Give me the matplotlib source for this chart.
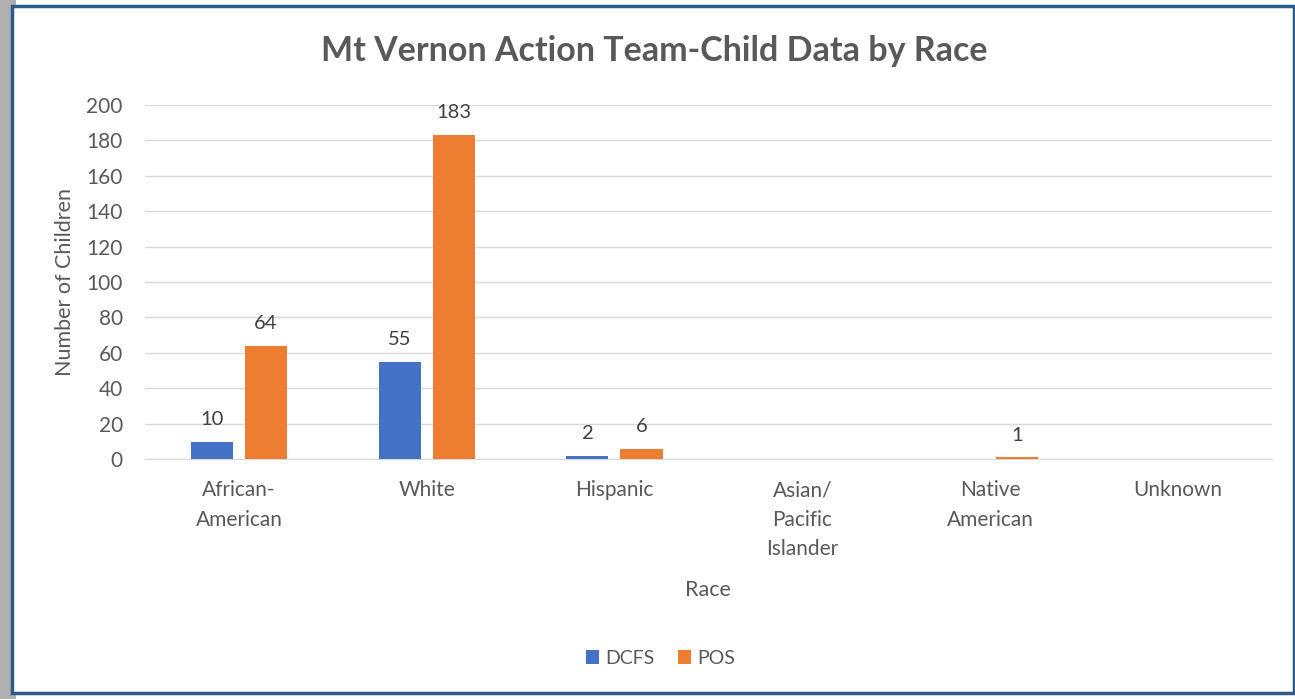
import matplotlib.pyplot as plt
import numpy as np
from matplotlib.patches import Rectangle

categories = ["African-\nAmerican", "White", "Hispanic", "Asian/\nPacific\nIslander", "Native\nAmerican", "Unknown"]
dcfs = [10, 55, 2, 0, 0, 0]
pos = [64, 183, 6, 0, 1, 0]
dcfs_labels = ["10", "55", "2", "", "", ""]
pos_labels = ["64", "183", "6", "", "1", ""]

plt.rcParams['font.family'] = ['Lato', 'DejaVu Sans']
txt = '#595959'

fig = plt.figure(figsize=(12.95, 6.99), dpi=100)

# frame with shadow
fig.patches.append(Rectangle((0.0, 0.0), 0.012, 1.0, transform=fig.transFigure,
                             facecolor='#b0b0b0', edgecolor='none', zorder=-2))
fig.patches.append(Rectangle((0.009, 0.008), 0.99, 0.984, transform=fig.transFigure,
                             facecolor='white', edgecolor='#2e5b87', linewidth=2.5, zorder=-1))

ax = fig.add_axes([0.112, 0.343, 0.870, 0.507])
ax.set_zorder(2)
ax.patch.set_alpha(0)
x = np.arange(len(categories))
w = 0.224
off = 0.144
b1 = ax.bar(x - off, dcfs, w, color='#4472c4', label='DCFS', zorder=3)
b2 = ax.bar(x + off, pos, w, color='#ed7d31', label='POS', zorder=3)

for rect, lab in zip(b1, dcfs_labels):
    if lab:
        ax.annotate(lab, (rect.get_x() + rect.get_width() / 2, rect.get_height()),
                    xytext=(0, 10), textcoords='offset points', ha='center', va='bottom',
                    fontsize=14.5, color='#404040')
for rect, lab in zip(b2, pos_labels):
    if lab:
        ax.annotate(lab, (rect.get_x() + rect.get_width() / 2, rect.get_height()),
                    xytext=(0, 10), textcoords='offset points', ha='center', va='bottom',
                    fontsize=14.5, color='#404040')

ax.set_xlim(-0.5, len(categories) - 0.5)
ax.set_ylim(0, 200)
ax.set_yticks(range(0, 201, 20))
ax.set_xticks(x)
ax.set_xticklabels(categories, va='top', linespacing=1.6)
ax.tick_params(axis='both', length=0, labelsize=15, labelcolor=txt)
ax.tick_params(axis='x', pad=15)
ax.tick_params(axis='y', pad=16)
ax.grid(axis='y', color='#d9d9d9', linewidth=1, zorder=0)
for s in ['top', 'right', 'left']:
    ax.spines[s].set_visible(False)
ax.spines['bottom'].set_color('#d9d9d9')

ax.set_ylabel('Number of Children', fontsize=15.5, color=txt, labelpad=8)
ax.set_xlabel('Race', fontsize=15.5, color=txt, labelpad=15)
fig.text(0.505, 0.927, 'Mt Vernon Action Team-Child Data by Race', ha='center', va='center',
         fontsize=24.5, fontweight='bold', color=txt)

fig.legend(handles=[b1, b2], loc='center', bbox_to_anchor=(0.51, 0.058), ncol=2, frameon=False,
           fontsize=14, handlelength=0.7, handleheight=0.7, handletextpad=0.3, columnspacing=1.2,
           labelcolor=txt)

fig.savefig('out.png', dpi=100)
